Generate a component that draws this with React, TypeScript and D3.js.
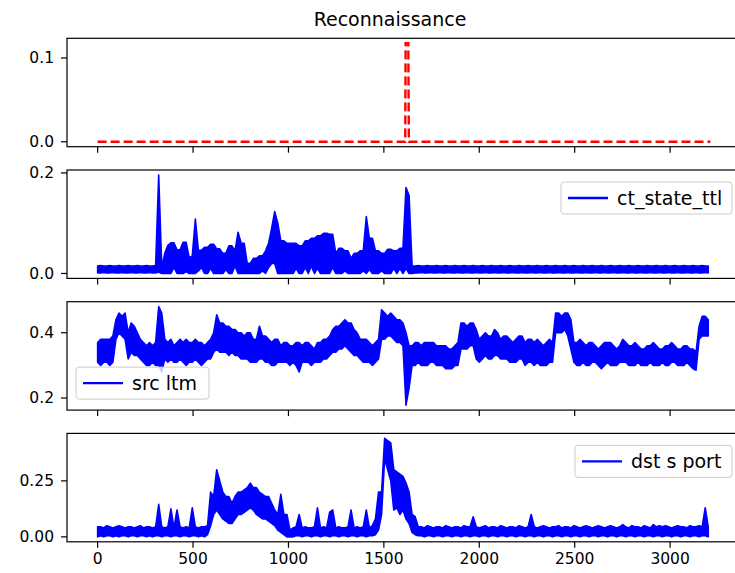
import React from "react";
import * as d3 from "d3";

// The blue series are dense (one sample per record), so each one is kept as a
// low / high envelope per bin of stepX records.
const stepX = 16;
const xTicks = [0, 500, 1000, 1500, 2000, 2500, 3000];

// Reconnaissance label (red dashed)
const reconX = [0, 1612, 1614, 1628, 1631, 3211];
const reconY = [0, 0, 0.1176, 0.1176, 0, 0];

// ct_state_ttl
const ctStateTtlHi = [
  .015, .016, .015, .015, .016, .015, .015, .016, .015, .015, .016, .015, .015, .016, .015, .015, .016, .015, .015, .016,
  .196,
  .012, .04, .056, .061, .061, .047, .047, .062, .062, .031, .035, .108, .046, .046, .052, .052, .058, .058, .049, .049,
  .04, .04, .055, .055, .045, .082, .06, .06, .02, .02, .03, .03, .035, .035, .045, .06, .09, .123, .1, .065,
  .065, .06, .06, .06, .06, .055, .055, .065, .065, .07, .07, .075, .075, .08, .08, .078, .078, .04, .05, .05,
  .045, .045, .03, .04, .04, .045, .045, .113, .07, .07, .045, .045, .04, .04, .048, .048, .045, .045, .05, .05,
  .171, .155, .015,
  .015, .016, .015, .015, .016, .015, .015, .016, .015, .015,
  .016, .015, .015, .016, .015, .015, .016, .015, .015, .016,
  .015, .015, .016, .015, .015, .016, .015, .015, .016, .015,
  .015, .016, .015, .015, .016, .015, .015, .016, .015, .015,
  .016, .015, .015, .016, .015, .015, .016, .015, .015, .016,
  .015, .015, .016, .015, .015, .016, .015, .015, .016, .015,
  .015, .016, .015, .015, .016, .015, .015, .016, .015, .015,
  .016, .015, .015, .016, .015, .015, .016, .015, .015, .016,
  .015, .015, .016, .015, .015, .016, .015, .015, .016, .015,
  .015, .016, .015, .015, .016, .015, .015,
];
const ctStateTtlLo = [
  .001, .001, .002, .001, .001, .002, .001, .001, .002, .001, .001, .002, .001, .001, .002, .001, .001, .002, .001, .001,
  .003,
  0, 0, 0, 0, .012, 0, 0, 0, .004, 0, 0, 0, .005, .012, 0, 0, .01, 0, 0, 0,
  0, .008, 0, 0, .015, 0, 0, 0, 0, 0, 0, 0, 0, .005, 0, .012, .02, .02, 0, 0,
  0, 0, 0, 0, .01, 0, 0, .012, 0, .015, 0, .01, 0, 0, 0, 0, .012, 0, 0, 0,
  .005, 0, 0, 0, 0, 0, .005, 0, .008, 0, 0, 0, .005, 0, 0, 0, .01, 0, .01, 0,
  .01, 0, 0,
  .001, .001, .002, .001, .001, .002, .001, .001, .002, .001,
  .001, .002, .001, .001, .002, .001, .001, .002, .001, .001,
  .002, .001, .001, .002, .001, .001, .002, .001, .001, .002,
  .001, .001, .002, .001, .001, .002, .001, .001, .002, .001,
  .001, .002, .001, .001, .002, .001, .001, .002, .001, .001,
  .002, .001, .001, .002, .001, .001, .002, .001, .001, .002,
  .001, .001, .002, .001, .001, .002, .001, .001, .002, .001,
  .001, .002, .001, .001, .002, .001, .001, .002, .001, .001,
  .002, .001, .001, .002, .001, .001, .002, .001, .001, .002,
  .001, .001, .002, .001, .001, .002, .001,
];

// src ltm
const srcLtmHi = [
  .37, .38, .38, .38, .38, .39, .44, .46, .45, .46, .40, .43, .42, .40, .38,
  .37, .36, .37, .36, .37, .48, .46,
  .38, .37, .38, .36, .37, .38, .37, .38, .37, .37, .38, .37, .37, .36, .37, .38,
  .40, .455, .43, .43, .42, .42, .41, .41, .40, .40,
  .39, .40, .40, .38, .38, .42, .39, .39, .38, .37, .38, .38, .36, .37, .37, .36, .36, .37, .37,
  .36, .37, .37, .36, .35, .37, .37, .38, .38,
  .39, .41, .42, .42, .43, .44, .43, .43, .41, .40, .38,
  .38, .38, .37, .36, .37, .38,
  .47, .46, .45, .46, .45, .44, .44, .43,
  .40, .36,
  .36, .37, .37, .36, .37, .37, .37, .37, .36, .36, .36, .36, .35, .35, .36, .37,
  .43, .43, .42, .43, .43, .41,
  .38, .39, .40, .39, .39, .41, .40, .38, .39, .39, .38, .37, .38, .39, .39, .37, .38, .38, .37, .38, .37, .36, .37, .38, .37,
  .46, .46, .45, .46, .46, .44,
  .37, .37, .38, .37, .36, .37, .37, .36, .35, .36, .37, .37, .37, .36, .35, .36, .38, .37, .36, .36,
  .37, .36, .35, .35, .36, .36, .37, .36, .35, .35, .36, .36, .37, .36, .35, .35, .36, .36, .35, .35,
  .34,
  .42, .45, .45, .44,
];
const srcLtmLo = [
  .31, .30, .31, .31, .30, .31, .38, .40, .39, .38, .32, .34, .33, .33, .32,
  .31, .30, .30, .31, .30, .30, .28,
  .32, .31, .32, .31, .31, .32, .31, .30, .31, .31, .32, .31, .30, .31, .32, .32,
  .34, .35, .34, .34, .34, .33, .34, .33, .33, .32,
  .32, .32, .31, .31, .31, .32, .32, .31, .31, .30, .30, .31, .31, .31, .31, .30, .31, .30, .28,
  .31, .31, .31, .30, .31, .31, .31, .32, .32,
  .33, .34, .34, .35, .35, .36, .35, .34, .33, .33, .32,
  .31, .31, .31, .30, .31, .32,
  .38, .38, .39, .39, .38, .37, .37, .36,
  .178, .23,
  .30, .30, .31, .30, .30, .30, .31, .31, .30, .30, .30, .29, .29, .29, .30, .30,
  .35, .35, .35, .36, .36, .32,
  .31, .32, .33, .32, .32, .33, .33, .32, .32, .32, .31, .31, .31, .32, .32, .30, .31, .31, .30, .31, .30, .30, .30, .31, .31,
  .40, .40, .40, .41, .39, .35,
  .31, .30, .30, .31, .30, .30, .31, .31, .30, .29, .30, .31, .30, .30, .30, .31, .31, .31, .30, .30,
  .30, .31, .30, .30, .30, .31, .30, .30, .30, .31, .30, .30, .31, .31, .30, .30, .30, .31, .30, .29,
  .285,
  .38, .39, .39, .39,
];

// dst s port
const dstSPortHi = [
  .045, .045, .04, .05, .045, .04, .045, .05, .045, .04, .045, .045, .04, .045, .05, .04, .045, .045, .04, .045,
  .145, .045, .04, .045, .125, .04, .12, .045, .04, .045, .04, .13, .045, .04, .045, .045,
  .05, .2, .18, .3, .25, .2, .18, .18, .15, .18, .2, .2, .21, .22, .24, .22, .22, .2, .19, .18, .18, .15, .12, .1, .19, .1, .1, .03,
  .04, .045, .1, .04, .045, .04, .04, .045, .13, .04, .045, .04, .11, .12, .04, .045, .04, .04, .045, .12, .04, .045, .04, .045, .12, .04, .05,
  .08, .2, .2, .44, .43, .42, .3, .29, .28, .27, .24, .2, .1, .09, .045,
  .045, .04, .05, .045, .04, .045, .045, .04, .05, .045,
  .04, .045, .045, .04, .05, .045, .045, .09, .045, .04,
  .045, .05, .04, .045, .045, .04, .05, .045, .04, .045,
  .045, .04, .05, .045, .04, .045, .1, .045, .04, .045,
  .05, .045, .04, .045, .045, .05, .04, .045, .045, .04,
  .05, .045, .04, .045, .05, .045, .04, .045, .05, .045,
  .04, .045, .05, .045, .04, .045, .055, .045, .04, .05,
  .045, .045, .04, .05, .045, .04, .055, .045, .05, .045,
  .05, .045, .04, .045, .05, .045, .045, .04, .05, .045,
  .045, .05, .045, .13, .045,
];
const dstSPortLo = [
  0, .005, 0, .005, .005, 0, .005, 0, .005, .005, 0, .005, .005, 0, .005, .005, 0, .005, 0, .005,
  .005, 0, .005, .005, 0, .005, .005, 0, .005, .005, 0, .005, .005, 0, .005, 0,
  .01, .05, .1, .12, .1, .08, .07, .06, .06, .08, .1, .1, .11, .12, .13, .12, .1, .09, .08, .08, .07, .06, .05, .03, .02, .01, 0, 0,
  0, .005, .005, 0, .005, .005, 0, .005, .005, 0, .005, .005, 0, .005, .005, 0, .005, .005, 0, .005, .005, 0, .005, .005, 0, .005, .005,
  .01, .03, .1, .35, .3, .25, .12, .13, .1, .12, .08, .06, .02, .01, .005,
  .005, 0, .005, .005, 0, .005, .005, 0, .005, .005,
  0, .005, .005, 0, .005, .005, 0, .005, .005, 0,
  .005, .005, 0, .005, .005, 0, .005, .005, 0, .005,
  .005, 0, .005, .005, 0, .005, .005, 0, .005, .005,
  0, .005, .005, 0, .005, .005, 0, .005, .005, 0,
  .005, .005, 0, .005, .005, 0, .005, .005, 0, .005,
  .005, 0, .005, .005, 0, .005, .005, 0, .005, .005,
  0, .005, .005, 0, .005, .005, 0, .005, .005, 0,
  .005, .005, 0, .005, .005, 0, .005, .005, 0, .005,
  .005, 0, .005, .005, 0,
];

const yTicks = [[0, 0.1], [0, 0.2], [0.2, 0.4], [0, 0.25]];
const yTickLabels = [["0.0", "0.1"], ["0.0", "0.2"], ["0.2", "0.4"], ["0.00", "0.25"]];
const legendLabels = [null, "ct_state_ttl", "src ltm", "dst s port"];
const title = "Reconnaissance";

// layout
const W = 735;
const H = 573;
const left = 67;
const right = 741;
const tops = [38.3, 170, 301.7, 433.4];
const ph = 108.4;
const font = "DejaVu Sans, sans-serif";

const pad = (lo: number, hi: number): [number, number] => {
  const m = (hi - lo) * 0.05;
  return [lo - m, hi + m];
};

export default function App() {
  const bands = [
    null,
    { hi: ctStateTtlHi, lo: ctStateTtlLo },
    { hi: srcLtmHi, lo: srcLtmLo },
    { hi: dstSPortHi, lo: dstSPortLo },
  ];
  const lastX = Math.max(d3.max(reconX)!, (ctStateTtlHi.length - 1) * stepX);
  const x = d3.scaleLinear().domain(pad(0, lastX)).range([left, right]);

  // legend box placement (upper right or lower left)
  const legendWidths = [0, 171, 133, 157];
  const legendCorner = ["", "ur", "ll", "ur"];

  return (
    <div style={{ position: "absolute", left: 0, top: 0 }}>
      <svg width={W} height={H} style={{ display: "block", background: "#fff" }} fontFamily={font}>
        <text x={390} y={26} fontSize={19} textAnchor="middle" fill="#000">{title}</text>
        {bands.map((b, p) => {
          const top = tops[p];
          const bottom = top + ph;
          const yExt: [number, number] = b ? [d3.min(b.lo)!, d3.max(b.hi)!] : [d3.min(reconY)!, d3.max(reconY)!];
          const y = d3.scaleLinear().domain(pad(yExt[0], yExt[1])).range([bottom, top]);
          let mark: JSX.Element;
          if (b) {
            const area = d3
              .area<number>()
              .x((_, i) => x(i * stepX))
              .y0((_, i) => y(b.lo[i]))
              .y1((d) => y(d));
            mark = (
              <path d={area(b.hi) ?? ""} fill="#0000ff" stroke="#0000ff" strokeWidth={1.6} strokeLinejoin="round" />
            );
          } else {
            const line = d3.line<number>().x((d) => x(d)).y((_, i) => y(reconY[i]));
            mark = (
              <path d={line(reconX) ?? ""} fill="none" stroke="#ff0000" strokeWidth={2.4} strokeDasharray="9,4" />
            );
          }
          const lab = legendLabels[p];
          const lw = legendWidths[p];
          const lh = 32;
          const lx = legendCorner[p] === "ur" ? 732 - lw : left + 9;
          const ly = legendCorner[p] === "ur" ? top + 12 : bottom - 11 - lh;
          return (
            <g key={p}>
              <defs>
                <clipPath id={`clip${p}`}>
                  <rect x={left} y={top} width={right - left} height={ph} />
                </clipPath>
              </defs>
              <g clipPath={`url(#clip${p})`}>{mark}</g>
              <rect x={left} y={top} width={right - left} height={ph} fill="none" stroke="#000" strokeWidth={1.2} />
              {yTicks[p].map((t, k) => (
                <g key={k} transform={`translate(0,${y(t)})`}>
                  <line x1={left - 6} x2={left} stroke="#000" strokeWidth={1.2} />
                  <text x={left - 13} dy="0.35em" fontSize={15.5} textAnchor="end" fill="#000">
                    {yTickLabels[p][k]}
                  </text>
                </g>
              ))}
              {xTicks.map((t) => (
                <g key={t} transform={`translate(${x(t)},${bottom})`}>
                  <line y1={0} y2={6} stroke="#000" strokeWidth={1.2} />
                  {p === 3 && (
                    <text y={22} fontSize={15.5} textAnchor="middle" fill="#000">{t}</text>
                  )}
                </g>
              ))}
              {lab && (
                <g transform={`translate(${lx},${ly})`}>
                  <rect width={lw} height={lh} rx={3} fill="#fff" fillOpacity={0.8} stroke="#cccccc" strokeWidth={1} />
                  <line x1={7} x2={47} y1={lh / 2} y2={lh / 2} stroke="#0000ff" strokeWidth={2.4} />
                  <text x={56} y={lh / 2} dy="0.35em" fontSize={19} fill="#000">{lab}</text>
                </g>
              )}
            </g>
          );
        })}
      </svg>
    </div>
  );
}
